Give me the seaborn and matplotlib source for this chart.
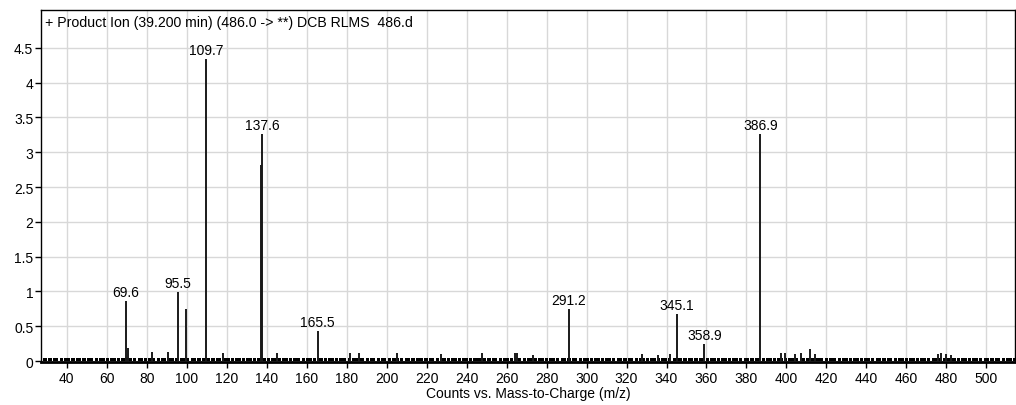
import matplotlib
matplotlib.use("Agg")
import matplotlib.pyplot as plt
import seaborn as sns
import pandas as pd

# Labelled product-ion peaks (m/z, counts)
labeled_mz = [69.6, 95.5, 109.7, 137.6, 165.5, 291.2, 345.1, 358.9, 386.9]
labeled_counts = [0.86, 0.99, 4.34, 3.26, 0.43, 0.75, 0.68, 0.24, 3.26]

# Unlabelled peaks
minor_mz = [70.5, 82.5, 90.6, 99.6, 118.0, 137.2, 145.0, 181.6, 186.1, 205.0,
            227.0, 247.5, 264.1, 265.3, 273.1, 327.5, 335.6, 341.6, 397.5, 399.1,
            404.1, 407.5, 411.6, 414.1, 475.6, 477.5, 480.0, 482.5]
minor_counts = [0.19, 0.13, 0.13, 0.75, 0.11, 2.82, 0.11, 0.11, 0.11, 0.11,
                0.10, 0.12, 0.12, 0.12, 0.08, 0.10, 0.08, 0.10, 0.12, 0.12,
                0.10, 0.12, 0.18, 0.10, 0.10, 0.12, 0.10, 0.08]

# Baseline noise band segments (m/z start, m/z end)
noise_segments = [
    (28.0, 30.2), (30.8, 32.5), (33.1, 35.9), (36.5, 38.0), (38.6, 41.8), (42.4, 44.0),
    (44.6, 47.3), (47.9, 49.5), (50.1, 53.4), (54.0, 55.6), (56.2, 59.0), (59.6, 61.1),
    (61.7, 64.5), (65.1, 66.8), (67.4, 72.6), (73.2, 74.9), (75.5, 78.1), (78.7, 80.2),
    (80.8, 84.4), (85.0, 86.5), (87.1, 89.6), (90.2, 93.8), (94.4, 96.1), (96.7, 99.2),
    (99.8, 101.4), (102.0, 104.6), (105.2, 107.0), (107.6, 111.8), (112.4, 114.1),
    (114.7, 117.3), (117.9, 121.6), (122.2, 123.8), (124.4, 127.2), (127.8, 129.3),
    (129.9, 132.7), (133.3, 134.8), (135.4, 139.5), (140.1, 141.6), (142.2, 145.0),
    (145.6, 147.3), (147.9, 150.6), (151.2, 152.8), (153.4, 156.9), (157.5, 159.1),
    (159.7, 162.5), (163.1, 164.6), (165.2, 168.0), (168.6, 170.2), (170.8, 173.6),
    (174.2, 175.7), (176.3, 179.9), (180.5, 182.1), (182.7, 185.5), (186.1, 188.9),
    (189.5, 191.0), (191.6, 194.4), (195.0, 196.5), (197.1, 199.9), (200.5, 202.0),
    (202.6, 206.2), (206.8, 208.4), (209.0, 211.8), (212.4, 214.0), (214.6, 218.3),
    (218.9, 220.5), (221.1, 223.9), (224.5, 226.1), (226.7, 229.5), (230.1, 231.7),
    (232.3, 235.1), (235.7, 237.2), (237.8, 240.6), (241.2, 242.8), (243.4, 249.8),
    (250.4, 252.0), (252.6, 255.4), (256.0, 257.6), (258.2, 261.0), (261.6, 263.2),
    (263.8, 267.4), (268.0, 269.6), (270.2, 273.0), (273.6, 275.2), (275.8, 278.6),
    (279.2, 280.8), (281.4, 284.2), (284.8, 286.4), (287.0, 289.8), (290.4, 292.0),
    (292.6, 295.4), (296.0, 297.6), (298.2, 301.0), (301.6, 303.2), (303.8, 306.6),
    (307.2, 308.8), (309.4, 312.2), (312.8, 314.4), (315.0, 317.8), (318.4, 320.0),
    (320.6, 323.4), (324.0, 325.6), (326.2, 329.0), (329.6, 331.2), (331.8, 334.6),
    (335.2, 336.8), (337.4, 340.2), (340.8, 342.4), (343.0, 347.8), (348.4, 350.0),
    (350.6, 353.4), (354.0, 355.6), (356.2, 359.0), (359.6, 361.2), (361.8, 364.6),
    (365.2, 366.8), (367.4, 370.2), (370.8, 372.4), (373.0, 375.8), (376.4, 378.0),
    (378.6, 381.4), (382.0, 383.6), (384.2, 387.0), (387.6, 389.2), (389.8, 392.6),
    (393.2, 394.8), (395.4, 398.2), (398.8, 400.4), (401.0, 403.8), (404.4, 406.0),
    (406.6, 409.4), (410.0, 411.6), (412.2, 418.5), (419.1, 420.7), (421.3, 425.0),
    (425.6, 427.2), (427.8, 430.6), (431.2, 432.8), (433.4, 436.2), (436.8, 438.4),
    (439.0, 441.8), (442.4, 444.0), (444.6, 447.4), (448.0, 449.6), (450.2, 453.0),
    (453.6, 455.2), (455.8, 458.6), (459.2, 460.8), (461.4, 464.2), (464.8, 466.4),
    (467.0, 469.8), (470.4, 472.0), (472.6, 475.4), (476.0, 477.6), (478.2, 484.6),
    (485.2, 486.8), (487.4, 490.2), (490.8, 492.4), (493.0, 495.8), (496.4, 498.0),
    (498.6, 501.4), (502.0, 503.6), (504.2, 507.0), (507.6, 509.2), (509.8, 512.6),
    (513.2, 514.3),
]
noise_level = 0.045

x_ticks = list(range(40, 501, 20))
y_ticks = [0, 0.5, 1, 1.5, 2, 2.5, 3, 3.5, 4, 4.5]

title_text = '+ Product Ion (39.200 min) (486.0 -> **) DCB RLMS  486.d'
x_label = 'Counts vs. Mass-to-Charge (m/z)'

sns.set_theme(style="whitegrid")
plt.rcParams['font.family'] = ['Liberation Sans', 'DejaVu Sans']

peaks = pd.DataFrame({
    'mz': labeled_mz + minor_mz,
    'counts': labeled_counts + minor_counts,
})
noise = pd.DataFrame(noise_segments, columns=['start', 'end'])

fig = plt.figure(figsize=(10.16, 4.06), dpi=100)
W, H = 1016, 406
ax = fig.add_axes([41 / W, 1 - 363 / H, (1015 - 41) / W, (363 - 11) / H])

ax.set_xlim(27.15, 514.3)
ax.set_ylim(-0.014, 5.045)

# baseline noise band
ax.bar(noise['start'], noise_level, width=noise['end'] - noise['start'],
       align='edge', color='black', linewidth=0, zorder=3)

# stick spectrum
ax.vlines(peaks['mz'], 0, peaks['counts'], color='#1a1a1a', linewidth=1.4, zorder=4)

for mz, c in zip(labeled_mz, labeled_counts):
    ax.annotate(f'{mz:.1f}', xy=(mz, c), xytext=(0, 1.5), textcoords='offset points',
                ha='center', va='bottom', fontsize=10, color='black', zorder=5)

ax.annotate(title_text, xy=(0, 1), xycoords='axes fraction', xytext=(3, -9),
            textcoords='offset points', ha='left', va='center', fontsize=10.2,
            color='black')

ax.set_xticks(x_ticks)
ax.set_yticks(y_ticks)
ax.set_yticklabels([f'{v:g}' for v in y_ticks])
ax.grid(True, color='#d8d8d8', linewidth=1.0)
ax.set_axisbelow(True)
ax.tick_params(axis='both', which='major', direction='out', length=4, width=1,
               color='black', labelsize=10, labelcolor='black', pad=1.5,
               bottom=True, left=True)
ax.tick_params(axis='x', pad=2.5)

for side in ['left', 'top', 'right']:
    ax.spines[side].set_color('black')
    ax.spines[side].set_linewidth(1.0)
ax.spines['bottom'].set_color('black')
ax.spines['bottom'].set_linewidth(2.0)

ax.set_xlabel(x_label, fontsize=10, color='black', labelpad=1)
ax.set_ylabel('')

fig.savefig('out.png', dpi=100, facecolor='white')
